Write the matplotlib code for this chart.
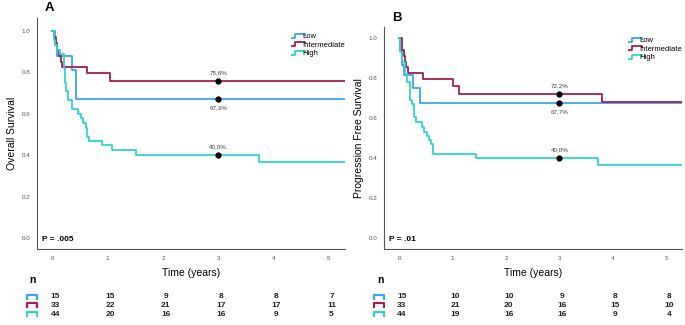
import numpy as np
import matplotlib
matplotlib.use('Agg')
import matplotlib.pyplot as plt
from matplotlib.path import Path
from matplotlib.lines import Line2D

plt.rcParams['font.family'] = ['Liberation Sans', 'DejaVu Sans']

# group names and colours
groups = ['Low', 'Intermediate', 'High']
colors = ['#3AA5F0', '#A51C50', '#2ED3CF']

# Overall survival (panel A) step curves
os_low_t = [0, 0.05, 0.08, 0.36, 0.43, 5.3]
os_low_s = [1.0, 0.933, 0.879, 0.81, 0.673, 0.673]
os_int_t = [0, 0.03, 0.06, 0.09, 0.12, 0.15, 0.18, 0.63, 1.05, 5.3]
os_int_s = [1.0, 0.97, 0.94, 0.91, 0.88, 0.85, 0.826, 0.797, 0.758, 0.758]
os_high_t = [0, 0.02, 0.05, 0.09, 0.14, 0.2, 0.21, 0.22, 0.23, 0.24, 0.29, 0.36,
             0.47, 0.52, 0.56, 0.6, 0.63, 0.67, 0.9, 1.07, 1.52, 3.73, 5.3]
os_high_s = [1.0, 0.955, 0.93, 0.91, 0.89, 0.86, 0.82, 0.78, 0.75, 0.71, 0.667, 0.625,
             0.6, 0.58, 0.555, 0.53, 0.49, 0.469, 0.447, 0.425, 0.40, 0.367, 0.367]

# Progression free survival (panel B) step curves
pfs_low_t = [0, 0.02, 0.05, 0.08, 0.26, 0.38, 5.3]
pfs_low_s = [1.0, 0.933, 0.867, 0.816, 0.75, 0.677, 0.677]
pfs_int_t = [0, 0.05, 0.08, 0.1, 0.13, 0.17, 0.45, 1.0, 1.12, 3.8, 5.3]
pfs_int_s = [1.0, 0.94, 0.91, 0.88, 0.856, 0.826, 0.796, 0.76, 0.722, 0.68, 0.68]
pfs_high_t = [0, 0.02, 0.05, 0.1, 0.15, 0.2, 0.24, 0.27, 0.32, 0.43, 0.47, 0.52,
              0.56, 0.6, 0.64, 1.44, 3.73, 5.3]
pfs_high_s = [1.0, 0.93, 0.88, 0.82, 0.78, 0.69, 0.67, 0.607, 0.58, 0.555, 0.53, 0.51,
              0.49, 0.47, 0.423, 0.40, 0.368, 0.368]

# 3-year estimates
os_3y = [0.673, 0.758, 0.40]
os_3y_labels = ['67,3%', '75,8%', '40,0%']
pfs_3y = [0.677, 0.722, 0.40]
pfs_3y_labels = ['67,7%', '72,2%', '40,0%']

# numbers at risk
risk_times = [0, 1, 2, 3, 4, 5]
os_risk = [[15, 15, 9, 8, 8, 7],
           [33, 22, 21, 17, 17, 11],
           [44, 20, 16, 16, 9, 5]]
pfs_risk = [[15, 10, 10, 9, 8, 8],
            [33, 21, 20, 16, 15, 10],
            [44, 19, 16, 16, 9, 4]]

legend_mark = Path([(-1, -0.35), (-0.45, -0.35), (-0.45, 0.35), (1, 0.35), (1, 0.0)],
                   [Path.MOVETO] + [Path.LINETO] * 4)
risk_mark = Path([(-1, -0.6), (-1, 0.5), (1, 0.5), (1, -0.6)],
                 [Path.MOVETO] + [Path.LINETO] * 3)

fig = plt.figure(figsize=(6.85, 3.25), dpi=100)


def panel(rect, letter, ylabel, curves, est, est_labels, risk, pval, ylim_top, leg_y):
    ax = fig.add_axes(rect)
    for (t, s), c in zip(curves, colors):
        ax.plot(t, s, drawstyle='steps-post', color=c, lw=1.3)
    # 3-year dots and labels (below for Low, above for others)
    for i, (v, lab) in enumerate(zip(est, est_labels)):
        ax.plot(3, v, 'o', color='black', ms=3.5, zorder=5)
        off = -0.045 if i == 0 else 0.04
        ax.text(3, v + off, lab, ha='center', va='center', fontsize=4.5, color='#444444')
    ax.set_xlim(-0.28, 5.3)
    ax.set_ylim(-0.053, ylim_top)
    ax.set_xticks(risk_times)
    ax.set_yticks([0, 0.2, 0.4, 0.6, 0.8, 1.0])
    ax.set_yticklabels(['0.0', '0.2', '0.4', '0.6', '0.8', '1.0'])
    ax.tick_params(length=0, labelsize=4.5, labelcolor='#555555', pad=5)
    for sp in ['top', 'right']:
        ax.spines[sp].set_visible(False)
    for sp in ['left', 'bottom']:
        ax.spines[sp].set_color('#555555')
        ax.spines[sp].set_linewidth(0.8)
    ax.set_ylabel(ylabel, fontsize=7.5, labelpad=3)
    ax.set_xlabel('Time (years)', fontsize=7.5, labelpad=5)
    ax.text(0.015, 0.025, pval, transform=ax.transAxes, fontsize=6, fontweight='bold',
            va='bottom')
    ax.text(0.025, 1.015, letter, transform=ax.transAxes, fontsize=9.5, fontweight='bold',
            va='bottom', ha='left')
    handles = [Line2D([], [], ls='none', marker=legend_mark, ms=10, mew=1.3,
                      mec=c, mfc='none') for c in colors]
    ax.legend(handles, groups, loc='upper right', bbox_to_anchor=(1.0, leg_y),
              frameon=False, fontsize=5.5, handlelength=1.0, handletextpad=0.1,
              labelspacing=0.15, borderaxespad=0, borderpad=0)

    # numbers at risk table
    tb = fig.add_axes([rect[0], 0.02, rect[2], 0.135])
    tb.set_xlim(ax.get_xlim())
    tb.set_ylim(0, 4)
    tb.axis('off')
    tb.text(-0.42, 3.5, 'n', fontsize=7.5, fontweight='bold', ha='left', va='center')
    for r, (row, c) in enumerate(zip(risk, colors)):
        y = 2.0 - r * 0.8
        tb.plot(-0.37, y, ls='none', marker=risk_mark, ms=7, mew=1.6, mec=c,
                mfc='none', clip_on=False)
        for t, n in zip(risk_times, row):
            tb.text(t + 0.05, y, str(n), fontsize=6, fontweight='bold', ha='center',
                    va='center', color='#222222')
    return ax


panel([0.054, 0.234, 0.45, 0.711], 'A', 'Overall Survival',
      [(os_low_t, os_low_s), (os_int_t, os_int_s), (os_high_t, os_high_s)],
      os_3y, os_3y_labels, os_risk, 'P = .005', 1.063, 0.935)
panel([0.561, 0.234, 0.435, 0.683], 'B', 'Progression Free Survival',
      [(pfs_low_t, pfs_low_s), (pfs_int_t, pfs_int_s), (pfs_high_t, pfs_high_s)],
      pfs_3y, pfs_3y_labels, pfs_risk, 'P = .01', 1.055, 0.955)

fig.savefig('out.png', dpi=100)
